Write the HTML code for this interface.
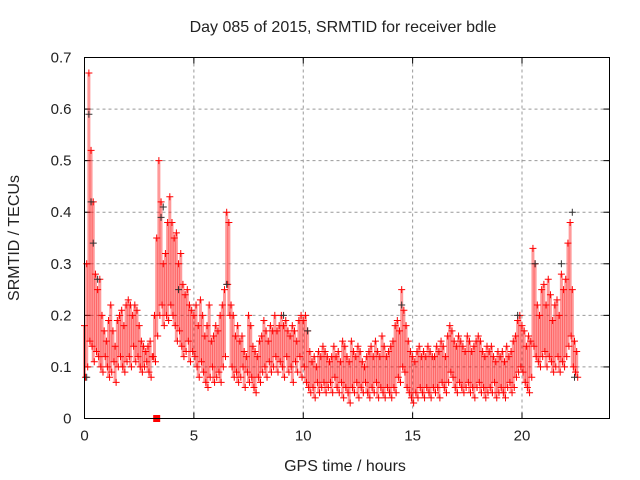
<!DOCTYPE html>
<html><head><meta charset="utf-8"><style>
body{margin:0;background:#fff;}
svg{display:block;font-family:"Liberation Sans",sans-serif;}
</style></head><body>
<svg id="chart" width="640" height="480" viewBox="0 0 640 480">
<rect width="640" height="480" fill="#fff"/>
<text x="343" y="32" font-size="16" text-anchor="middle" fill="#222">Day 085 of 2015, SRMTID for receiver bdle</text>
<text x="345" y="471" font-size="16" text-anchor="middle" fill="#222">GPS time / hours</text>
<text transform="translate(19,238) rotate(-90)" font-size="16" text-anchor="middle" fill="#222">SRMTID / TECUs</text>
<g id="grid"></g>
<g id="ticks"></g>
<g id="marks"></g>
<rect x="84.5" y="57.5" width="525" height="361" fill="none" stroke="#000" stroke-width="1"/>
</svg>
<script>
const xTicks=[0,5,10,15,20];
const yTicks=[0,0.1,0.2,0.3,0.4,0.5,0.6,0.7];
const yTickLabels=["0","0.1","0.2","0.3","0.4","0.5","0.6","0.7"];
const tStart=0, tStep=0.1;
const redHigh=[0.18,0.30,0.67,0.52,0.42,0.28,0.25,0.27,0.20,0.17,
0.15,0.19,0.22,0.17,0.14,0.19,0.20,0.21,0.18,0.22,
0.23,0.22,0.20,0.22,0.21,0.18,0.15,0.14,0.13,0.14,
0.15,0.12,0.20,0.35,0.50,0.42,0.30,0.32,0.38,0.43,
0.38,0.35,0.36,0.30,0.32,0.26,0.24,0.25,0.22,0.21,
0.20,0.22,0.18,0.23,0.20,0.16,0.18,0.22,0.15,0.16,
0.18,0.17,0.20,0.22,0.25,0.40,0.38,0.22,0.20,0.16,
0.18,0.15,0.16,0.13,0.12,0.20,0.18,0.14,0.13,0.12,
0.15,0.16,0.19,0.17,0.15,0.18,0.17,0.20,0.17,0.18,
0.20,0.18,0.19,0.17,0.16,0.18,0.17,0.15,0.19,0.20,
0.19,0.20,0.17,0.13,0.11,0.12,0.10,0.13,0.12,0.14,
0.13,0.12,0.11,0.12,0.14,0.12,0.13,0.11,0.15,0.14,
0.12,0.11,0.15,0.13,0.12,0.14,0.13,0.11,0.10,0.12,
0.13,0.14,0.12,0.15,0.13,0.12,0.16,0.14,0.12,0.13,
0.14,0.15,0.18,0.19,0.17,0.25,0.21,0.18,0.15,0.13,
0.12,0.11,0.13,0.14,0.12,0.13,0.12,0.14,0.13,0.12,
0.12,0.14,0.13,0.15,0.14,0.12,0.16,0.18,0.17,0.15,
0.14,0.16,0.15,0.14,0.13,0.16,0.15,0.13,0.14,0.15,
0.16,0.15,0.13,0.12,0.14,0.13,0.14,0.12,0.11,0.13,
0.12,0.13,0.11,0.14,0.12,0.13,0.15,0.16,0.19,0.20,
0.18,0.17,0.14,0.16,0.15,0.33,0.30,0.22,0.20,0.25,
0.26,0.22,0.27,0.24,0.19,0.22,0.23,0.20,0.28,0.25,
0.27,0.34,0.38,0.25,0.15,0.13];
const redLow=[0.08,0.10,0.15,0.14,0.11,0.13,0.12,0.10,0.09,0.12,
0.10,0.08,0.09,0.11,0.07,0.10,0.12,0.10,0.09,0.11,
0.12,0.10,0.14,0.11,0.12,0.10,0.09,0.10,0.11,0.09,
0.08,0.12,0.11,0.16,0.20,0.22,0.18,0.20,0.19,0.22,
0.20,0.18,0.15,0.17,0.14,0.12,0.13,0.15,0.11,0.13,
0.12,0.10,0.08,0.11,0.09,0.07,0.06,0.08,0.10,0.07,
0.08,0.09,0.07,0.10,0.12,0.26,0.20,0.10,0.08,0.09,
0.07,0.08,0.10,0.06,0.09,0.07,0.08,0.06,0.05,0.08,
0.07,0.09,0.10,0.08,0.11,0.09,0.10,0.12,0.09,0.11,
0.10,0.08,0.12,0.09,0.10,0.07,0.11,0.09,0.12,0.08,
0.10,0.07,0.06,0.05,0.06,0.04,0.07,0.05,0.06,0.07,
0.05,0.06,0.07,0.05,0.08,0.06,0.05,0.07,0.04,0.06,
0.05,0.03,0.06,0.05,0.07,0.04,0.06,0.05,0.07,0.05,
0.04,0.06,0.05,0.07,0.04,0.06,0.05,0.04,0.06,0.05,
0.04,0.06,0.05,0.08,0.07,0.10,0.09,0.06,0.05,0.04,
0.03,0.05,0.04,0.06,0.05,0.04,0.06,0.05,0.04,0.06,
0.05,0.06,0.04,0.07,0.06,0.05,0.07,0.09,0.08,0.06,
0.05,0.07,0.06,0.05,0.06,0.07,0.05,0.06,0.04,0.06,
0.07,0.05,0.06,0.04,0.05,0.06,0.05,0.07,0.04,0.05,
0.06,0.05,0.04,0.06,0.07,0.05,0.06,0.08,0.09,0.10,
0.09,0.07,0.06,0.05,0.08,0.14,0.12,0.11,0.10,0.12,
0.13,0.10,0.12,0.11,0.09,0.10,0.12,0.09,0.11,0.10,
0.12,0.14,0.16,0.10,0.09,0.08];
const blackT=[0.1,0.2,0.3,0.4,0.6,3.5,3.6,4.3,6.5,9.1,10.2,14.5,19.8,20.6,21.8,22.3,22.4];
const blackV=[0.08,0.59,0.42,0.34,0.27,0.39,0.41,0.25,0.26,0.20,0.17,0.22,0.20,0.30,0.30,0.40,0.08];
const squareT=[3.3], squareV=[0];

const L=84.5,R=609.5,T=57.5,B=418.5,XMAX=24,YMAX=0.7;
const sx=t=>L+(t/XMAX)*(R-L);
const sy=v=>B-(v/YMAX)*(B-T);
const NS="http://www.w3.org/2000/svg";
function mk(tag,attrs,parent){const e=document.createElementNS(NS,tag);for(const k in attrs)e.setAttribute(k,attrs[k]);parent.appendChild(e);return e;}
const grid=document.getElementById('grid'),ticks=document.getElementById('ticks'),marks=document.getElementById('marks');
xTicks.forEach(t=>{const x=sx(t);
 if(t>0){const g=mk('line',{x1:x,x2:x,y1:T,y2:B,stroke:'#999','stroke-dasharray':'3,3'},grid);
 
 }
 mk('line',{x1:x,x2:x,y1:B,y2:B-6,stroke:'#000'},ticks);
 mk('line',{x1:x,x2:x,y1:T,y2:T+6,stroke:'#000'},ticks);
 const tx=mk('text',{x:x,y:B+22,'font-size':15,'text-anchor':'middle',fill:'#222'},ticks);tx.textContent=t;
 
 
});
yTicks.forEach((v,i)=>{const y=sy(v);
 if(v>0&&v<YMAX){const g=mk('line',{x1:L,x2:R,y1:y,y2:y,stroke:'#999','stroke-dasharray':'3,3'},grid);
 
 }
 mk('line',{x1:L,x2:L+6,y1:y,y2:y,stroke:'#000'},ticks);
 mk('line',{x1:R,x2:R-6,y1:y,y2:y,stroke:'#000'},ticks);
 const tx=mk('text',{x:L-13,y:y+5,'font-size':15,'text-anchor':'end',fill:'#222'},ticks);tx.textContent=yTickLabels[i];
 
 
});
function plus(x,y,c){const p=mk('path',{d:`M${x-3.5},${y}h7M${x},${y-3.5}v7`,stroke:c,'stroke-width':1,fill:'none'},marks);return p;}
redHigh.forEach((v,i)=>{const t=tStart+i*tStep;const x=sx(t);
 const ln=mk('line',{x1:x,x2:x,y1:sy(v),y2:sy(redLow[i]),stroke:'#f00','stroke-width':3,'stroke-opacity':0.4},marks);
 
 
 const a=plus(x,sy(v),'#f00');
 
 
 const b=plus(x+1,sy(redLow[i]),'#f00');
 
 
});
blackT.forEach((t,i)=>{const p=plus(sx(t),sy(blackV[i]),'#333');
 
 });
squareT.forEach((t,i)=>{const s=mk('rect',{x:sx(t)-3.5,y:sy(squareV[i])-3.5,width:7,height:7,fill:'#f00'},marks);
 
 });
</script>
</body></html>
